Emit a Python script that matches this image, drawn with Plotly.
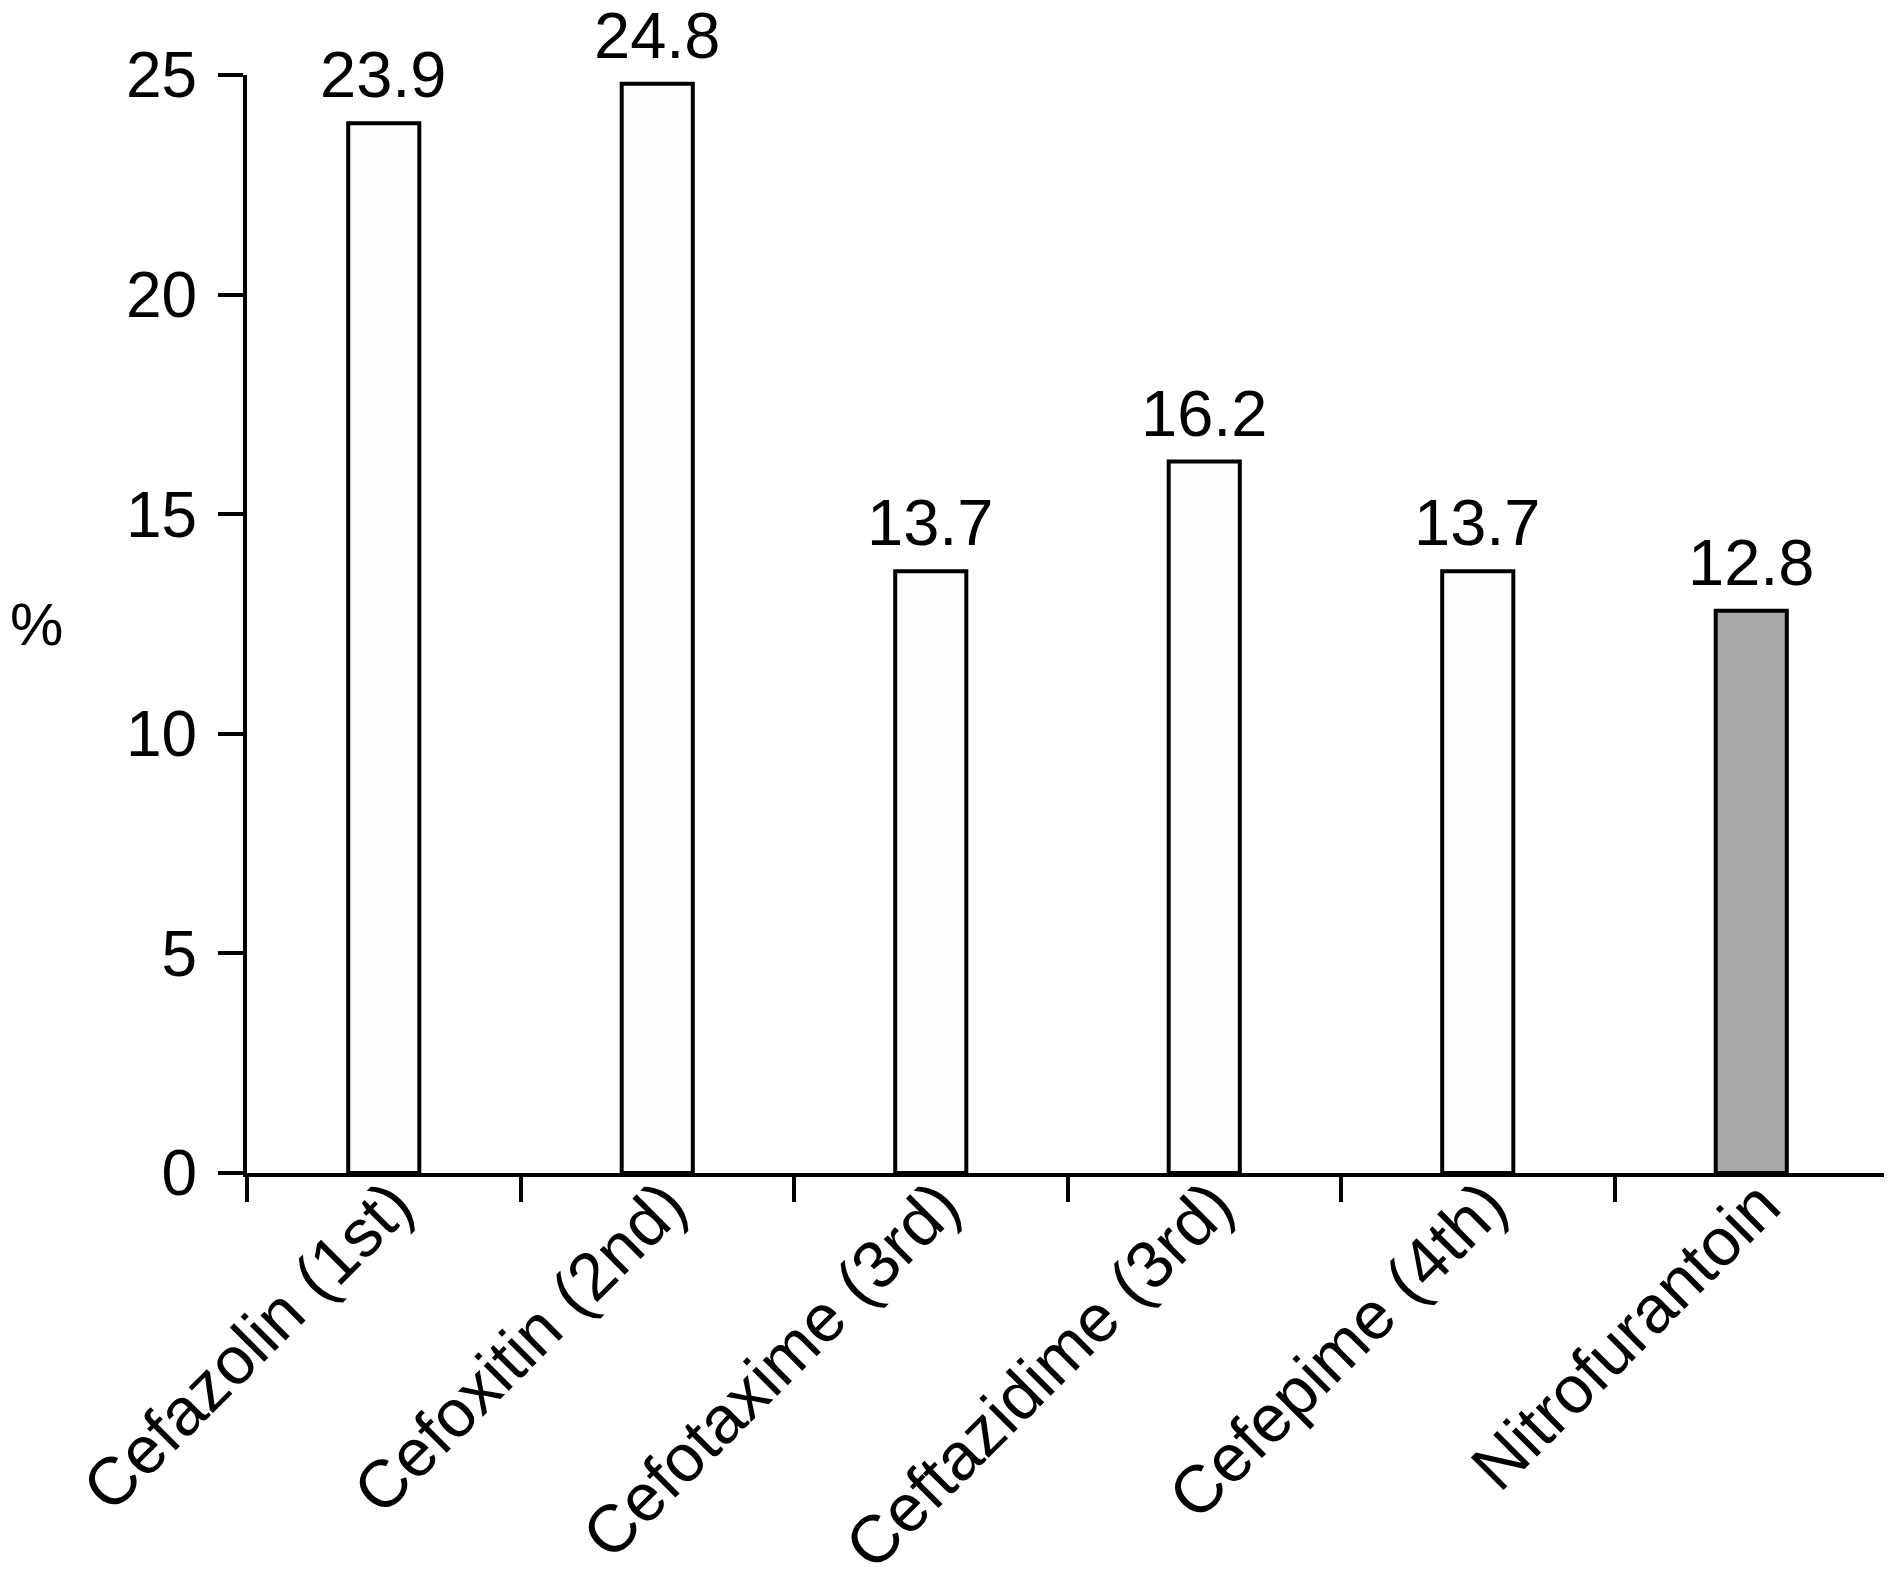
import plotly.graph_objects as go

categories = ["Cefazolin (1st)", "Cefoxitin (2nd)", "Cefotaxime (3rd)",
              "Ceftazidime (3rd)", "Cefepime (4th)", "Nitrofurantoin"]
values = [23.9, 24.8, 13.7, 16.2, 13.7, 12.8]
labels = ["23.9", "24.8", "13.7", "16.2", "13.7", "12.8"]
bar_colors = ["#fdfdfd", "#fdfdfd", "#fdfdfd", "#fdfdfd", "#fdfdfd", "#a8a8a8"]
y_ticks = [0, 5, 10, 15, 20, 25]

FONT = "Liberation Sans, Arial, Helvetica, sans-serif"

fig = go.Figure()
fig.add_trace(go.Bar(
    x=categories, y=values, width=0.26,
    marker=dict(color=bar_colors, line=dict(color="black", width=4)),
    cliponaxis=False, showlegend=False,
))

for c, v, t in zip(categories, values, labels):
    fig.add_annotation(x=c, y=v, text=t, showarrow=False, yanchor="bottom",
                       yshift=10, font=dict(family=FONT, size=65, color="black"))

fig.add_annotation(x=-0.128, y=0.5, xref="paper", yref="paper", text="%",
                   showarrow=False, xanchor="center", yanchor="middle",
                   font=dict(family=FONT, size=60, color="black"))

fig.update_layout(
    width=1892, height=1583,
    margin=dict(l=239, r=12, t=67, b=418),
    plot_bgcolor="white", paper_bgcolor="white",
    font=dict(family=FONT, size=60, color="black"),
)
fig.update_xaxes(
    automargin=False,
    showline=True, linecolor="black", linewidth=4,
    ticks="outside", tickson="boundaries", ticklen=25, tickwidth=4, tickcolor="black",
    tickangle=-45, tickfont=dict(family=FONT, size=67, color="black"),
    ticklabelstandoff=-38, ticklabelshift=9,
    showgrid=False, zeroline=False,
)
fig.update_yaxes(
    automargin=False,
    range=[0, 25], tickvals=y_ticks, showline=True, linecolor="black", linewidth=4,
    ticks="outside", ticklen=25, tickwidth=4, tickcolor="black",
    tickfont=dict(family=FONT, size=64, color="black"),
    ticklabelstandoff=8,
    showgrid=False, zeroline=False,
)

fig.write_html("out.html")
